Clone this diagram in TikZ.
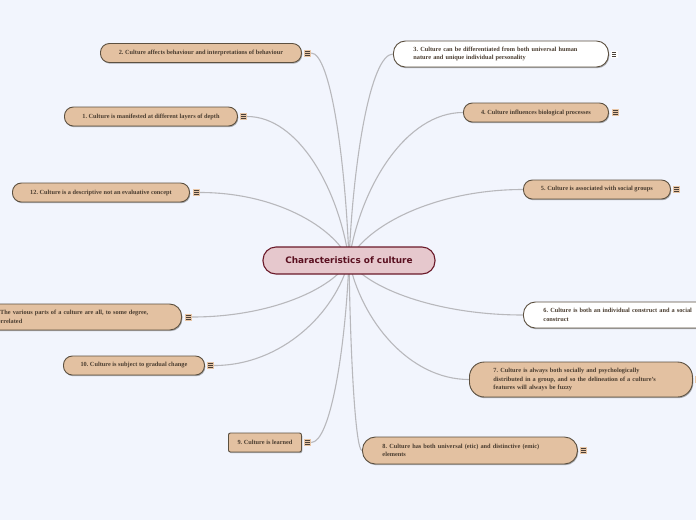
\documentclass[tikz,border=0pt]{standalone}
\usepackage{fontspec}
\setmainfont{Liberation Serif}
\newfontfamily\headfont{DejaVu Sans}
\usetikzlibrary{calc,shadows,backgrounds}
\definecolor{bgc}{HTML}{F2F5FD}
\definecolor{tanc}{HTML}{E3C1A1}
\definecolor{brd}{HTML}{5C5040}
\definecolor{txtc}{HTML}{4A3D30}
\definecolor{iconc}{HTML}{E8C6A6}
\definecolor{icond}{HTML}{4A4038}
\definecolor{linec}{HTML}{B8B8BC}
\definecolor{cfill}{HTML}{E6C8CD}
\definecolor{cbrd}{HTML}{6B1A2A}
\definecolor{ctext}{HTML}{5A1020}
\tikzset{
  box/.style={draw=brd, line width=0.9pt, fill=tanc, text=txtc,
    font=\fontsize{6.3}{8.4}\selectfont\bfseries\frenchspacing, inner sep=0pt,
    drop shadow={shadow xshift=0.8pt, shadow yshift=-1.2pt, opacity=0.3, fill=black}},
  pill/.style={box, rounded corners=9pt, minimum height=19pt, align=center},
  wide/.style={box, rounded corners=12pt, align=left, inner xsep=20pt},
  whitebox/.style={fill=white},
  icon/.style={draw=none, fill=iconc, minimum size=7pt, inner sep=0pt,
    path picture={\foreach \d in {-1.8,0,1.8}{\draw[line width=0.6pt, draw=icond]
      ($(path picture bounding box.center)+(-2.2pt,\d pt)$) -- ++(4.4pt,0pt);}}},
  conn/.style={draw=linec, line width=1.1pt},
  branch/.style={to path={let \p1=(\tikztostart), \p2=(\tikztotarget) in
    .. controls ({\x1+0.1*(\x2-\x1)},{\y1+0.5*(\y2-\y1)}) and ({0.5*(\x1+\x2)},{\y2}) .. (\tikztotarget)}}
}
\begin{document}
\begin{tikzpicture}[x=1pt,y=-1pt]
\useasboundingbox (0,0) rectangle (696,520);
% central
\node[draw=cbrd, fill=cfill, line width=1.1pt, rounded corners=13pt, minimum width=172pt,
  minimum height=27pt, font=\headfont\bfseries\fontsize{8.9}{10}\selectfont, text=ctext] (c) at (349,260.5) {Characteristics of culture};
% left nodes
\node[pill, anchor=west, minimum width=201pt] (n2) at (100,53) {2. Culture affects behaviour and interpretations of behaviour};
\node[icon] (i2) at (307.5,53) {};
\node[pill, anchor=west, minimum width=173pt] (n1) at (64,116.5) {1. Culture is manifested at different layers of depth};
\node[icon] (i1) at (243.5,116.5) {};
\node[pill, anchor=west, minimum width=177pt] (n12) at (12,192.5) {12. Culture is a descriptive not an evaluative concept};
\node[icon] (i12) at (196.5,192.5) {};
\node[wide, anchor=east, minimum height=26pt, text width=171pt] (n11) at (182,317) {11. The various parts of a culture are all, to some degree,\\interrelated};
\node[icon] (i11) at (188.5,317) {};
\node[pill, anchor=west, minimum width=141pt] (n10) at (63,365.5) {10. Culture is subject to gradual change};
\node[icon] (i10) at (210.5,365.5) {};
\node[box, rounded corners=2pt, minimum height=19pt, anchor=west, minimum width=73pt] (n9) at (228,442.5) {9. Culture is learned};
\node[icon] (i9) at (307.5,442.5) {};
% right nodes
\node[wide, whitebox, anchor=west, minimum height=26pt, text width=175pt] (n3) at (393,54) {3. Culture can be differentiated from both universal human\\nature and unique individual personality};
\node[icon, fill=white] (i3) at (614,54) {};
\node[pill, anchor=west, minimum width=145pt] (n4) at (463,112.5) {4. Culture influences biological processes};
\node[icon] (i4) at (615.5,112.5) {};
\node[pill, anchor=west, minimum width=147pt] (n5) at (523,189.5) {5. Culture is associated with social groups};
\node[icon] (i5) at (676.5,189.5) {};
\node[wide, whitebox, anchor=west, minimum height=26pt, text width=160pt] (n6) at (523,315) {6. Culture is both an individual construct and a social\\construct};
\node[wide, anchor=west, minimum height=35pt, text width=175pt, rounded corners=15pt, inner xsep=24pt] (n7) at (469,379.5) {7. Culture is always both socially and psychologically\\distributed in a group, and so the delineation of a culture's\\features will always be fuzzy};
\node[icon] (i7) at (698.5,379.5) {};
\node[wide, anchor=west, minimum height=27pt, text width=175pt, rounded corners=13pt] (n8) at (362,450.5) {8. Culture has both universal (etic) and distinctive (emic)\\elements};
\node[icon] (i8) at (583.5,450.5) {};
\begin{pgfonlayer}{background}
\fill[bgc] (0,0) rectangle (696,520);
\foreach \t in {i2.east,i1.east,i12.east,i11.east,i10.east,i9.east,n3.west,n4.west,n5.west,n6.west,n7.west,n8.west}
  \draw[conn] (c.center) to[branch] (\t);
\end{pgfonlayer}
\end{tikzpicture}
\end{document}
